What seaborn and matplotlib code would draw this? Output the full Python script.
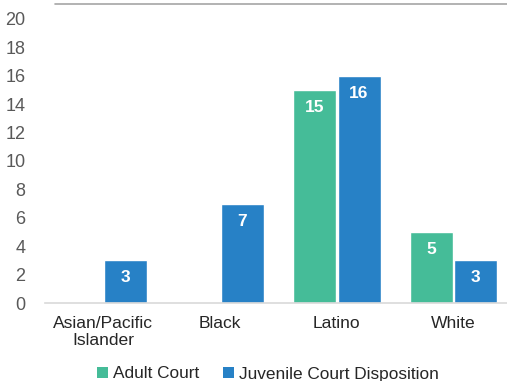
import numpy as np
import pandas as pd
import matplotlib
matplotlib.use("Agg")
import matplotlib.pyplot as plt
import seaborn as sns
from matplotlib.patches import Patch

categories = ["Asian/Pacific\nIslander", "Black", "Latino", "White"]
adult_court = [np.nan, np.nan, 15, 5]
juvenile_court = [3, 7, 16, 3]
series_names = ["Adult Court", "Juvenile Court Disposition"]
colors = ["#45BC98", "#2781C6"]
yticks = [0, 2, 4, 6, 8, 10, 12, 14, 16, 18, 20]

df = pd.DataFrame({
    "category": categories * 2,
    "series": [series_names[0]] * 4 + [series_names[1]] * 4,
    "value": adult_court + juvenile_court,
})

sns.set_theme(style="white")
plt.rcParams["font.family"] = ["Liberation Sans", "DejaVu Sans"]

fig = plt.figure(figsize=(5.07, 3.81), dpi=100)
ax = fig.add_axes([45 / 507, 78 / 381, 467 / 507, 299 / 381])

sns.barplot(data=df, x="category", y="value", hue="series", order=categories,
            hue_order=series_names, palette=colors, width=0.76, gap=0.03,
            saturation=1, legend=False, ax=ax)

ax.set_ylim(0, 21.05)
ax.set_xlim(-0.5, 3.5)
ax.set_yticks(yticks)
ax.set_xlabel("")
ax.set_ylabel("")
for s in ["left", "right", "top"]:
    ax.spines[s].set_visible(False)
ax.spines["bottom"].set_color("#D9D9D9")
ax.spines["bottom"].set_linewidth(1.2)
ax.axhline(21.05, xmin=(55 - 45) / 467, xmax=1, color="#A6A6A6", lw=1.2, clip_on=False)
ax.tick_params(axis="y", labelsize=13, labelcolor="#595959", length=0, pad=14)
ax.tick_params(axis="x", labelsize=12.6, labelcolor="#262626", length=0, pad=9)
for lbl in ax.get_xticklabels():
    lbl.set_linespacing(1.2)

for cont in ax.containers:
    labels = ["" if (np.isnan(v) or v == 0) else f"{int(v)}" for v in cont.datavalues]
    ax.bar_label(cont, labels=labels, label_type="edge", padding=-18,
                 color="white", fontsize=12.5, fontweight="bold")

handles = [Patch(facecolor=c, edgecolor="none") for c in colors]
fig.legend(handles, series_names, loc="center", bbox_to_anchor=(268 / 507, 1 - 374 / 381),
           ncol=2, frameon=False, fontsize=12.4, handlelength=0.6, handleheight=0.6,
           handletextpad=0.3, columnspacing=1.4, labelcolor="#262626")

fig.savefig("out.png", dpi=100)
